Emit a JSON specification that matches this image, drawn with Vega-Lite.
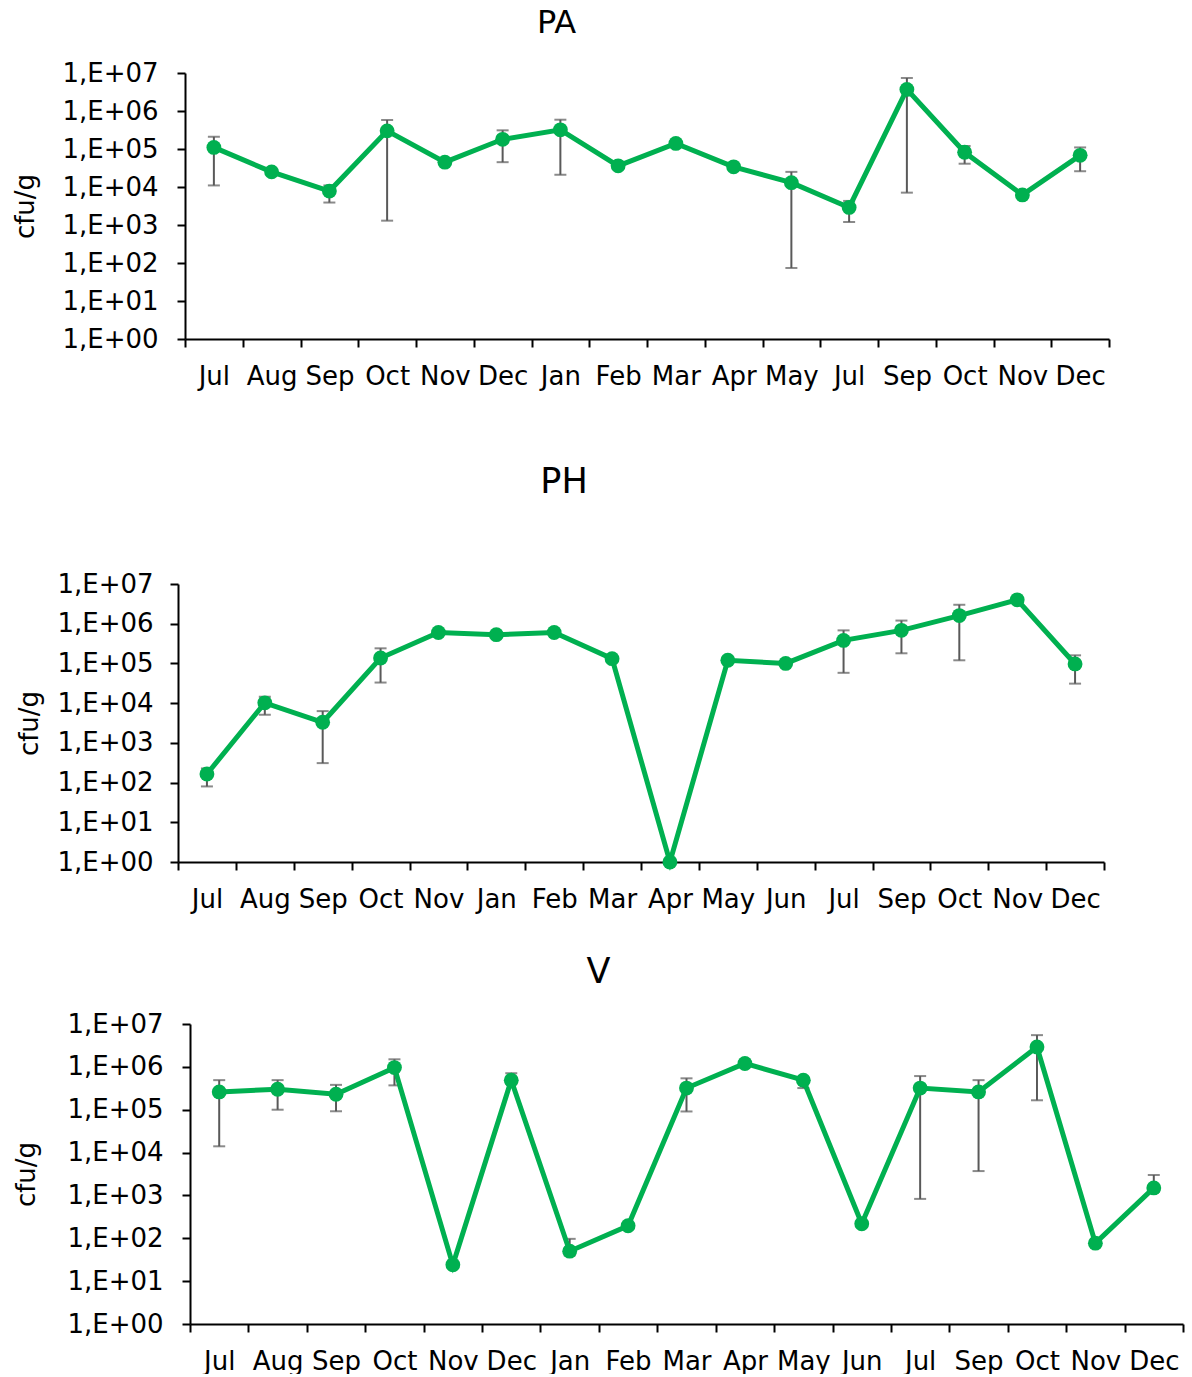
{
  "$schema": "https://vega.github.io/schema/vega-lite/v6.json",
  "background": "white",
  "padding": {"left": 12, "top": 7, "right": 5, "bottom": 0},
  "spacing": 43,
  "config": {
    "font": "DejaVu Sans",
    "view": {"stroke": null},
    "axis": {
      "labelFont": "DejaVu Sans", "labelFontSize": 26, "labelColor": "#000",
      "titleFont": "DejaVu Sans", "titleFontSize": 26, "titleFontWeight": "normal", "titleColor": "#000",
      "domainColor": "#000", "domainWidth": 2, "tickColor": "#000", "tickWidth": 2, "tickSize": 8, "grid": false
    },
    "title": {"font": "DejaVu Sans", "fontWeight": "normal", "color": "#000", "anchor": "middle", "frame": "group"}
  },
  "datasets": {
    "pa": [
      {"k": "Jul_1", "v": 110000, "lo": 11000, "hi": 210000},
      {"k": "Aug_1", "v": 25000, "lo": null, "hi": null},
      {"k": "Sep_1", "v": 7800, "lo": 3900, "hi": 11000},
      {"k": "Oct_1", "v": 300000, "lo": 1300, "hi": 580000},
      {"k": "Nov_1", "v": 45000, "lo": null, "hi": null},
      {"k": "Dec_1", "v": 180000, "lo": 45000, "hi": 310000},
      {"k": "Jan_1", "v": 320000, "lo": 21000, "hi": 590000},
      {"k": "Feb_1", "v": 36000, "lo": null, "hi": null},
      {"k": "Mar_1", "v": 140000, "lo": null, "hi": null},
      {"k": "Apr_1", "v": 34000, "lo": null, "hi": null},
      {"k": "May_1", "v": 13000, "lo": 74, "hi": 25000},
      {"k": "Jul_2", "v": 2900, "lo": 1200, "hi": 4300},
      {"k": "Sep_2", "v": 3700000, "lo": 7100, "hi": 7400000},
      {"k": "Oct_2", "v": 82000, "lo": 41000, "hi": 120000},
      {"k": "Nov_2", "v": 6200, "lo": null, "hi": null},
      {"k": "Dec_2", "v": 68000, "lo": 26000, "hi": 110000}
    ],
    "ph": [
      {"k": "Jul_1", "v": 164, "lo": 80, "hi": 227},
      {"k": "Aug_1", "v": 10200, "lo": 5100, "hi": 14500},
      {"k": "Sep_1", "v": 3300, "lo": 309, "hi": 6300},
      {"k": "Oct_1", "v": 137000, "lo": 33000, "hi": 240000},
      {"k": "Nov_1", "v": 600000, "lo": null, "hi": null},
      {"k": "Jan_1", "v": 530000, "lo": null, "hi": null},
      {"k": "Feb_1", "v": 600000, "lo": null, "hi": null},
      {"k": "Mar_1", "v": 132000, "lo": null, "hi": null},
      {"k": "Apr_1", "v": 1, "lo": null, "hi": null},
      {"k": "May_1", "v": 120000, "lo": null, "hi": null},
      {"k": "Jun_1", "v": 100000, "lo": null, "hi": null},
      {"k": "Jul_2", "v": 380000, "lo": 58000, "hi": 680000},
      {"k": "Sep_2", "v": 680000, "lo": 180000, "hi": 1200000},
      {"k": "Oct_2", "v": 1600000, "lo": 120000, "hi": 3000000},
      {"k": "Nov_2", "v": 4000000, "lo": null, "hi": null},
      {"k": "Dec_2", "v": 97000, "lo": 31000, "hi": 160000}
    ],
    "v": [
      {"k": "Jul_1", "v": 260000, "lo": 14000, "hi": 490000},
      {"k": "Aug_1", "v": 300000, "lo": 100000, "hi": 490000},
      {"k": "Sep_1", "v": 230000, "lo": 92000, "hi": 380000},
      {"k": "Oct_1", "v": 960000, "lo": 370000, "hi": 1500000},
      {"k": "Nov_1", "v": 24, "lo": null, "hi": null},
      {"k": "Dec_1", "v": 490000, "lo": 400000, "hi": 710000},
      {"k": "Jan_1", "v": 50, "lo": 40, "hi": 97},
      {"k": "Feb_1", "v": 196, "lo": null, "hi": null},
      {"k": "Mar_1", "v": 320000, "lo": 91000, "hi": 540000},
      {"k": "Apr_1", "v": 1200000, "lo": null, "hi": null},
      {"k": "May_1", "v": 490000, "lo": 320000, "hi": 550000},
      {"k": "Jun_1", "v": 218, "lo": null, "hi": null},
      {"k": "Jul_2", "v": 320000, "lo": 830, "hi": 610000},
      {"k": "Sep_2", "v": 260000, "lo": 3700, "hi": 490000},
      {"k": "Oct_2", "v": 2900000, "lo": 166000, "hi": 5500000},
      {"k": "Nov_2", "v": 77, "lo": null, "hi": null},
      {"k": "Dec_2", "v": 1500, "lo": 1200, "hi": 3000}
    ]
  },
  "vconcat": [
    {
      "title": {"text": "PA", "fontSize": 32, "offset": 20, "dx": -87},
      "width": 931, "height": 266,
      "data": {"name": "pa"},
      "encoding": {
        "x": {"field": "k", "type": "nominal",
          "scale": {"type": "band", "paddingInner": 0, "paddingOuter": 0, "range": [7, 931],
            "domain": ["Jul_1","Aug_1","Sep_1","Oct_1","Nov_1","Dec_1","Jan_1","Feb_1","Mar_1","Apr_1","May_1","Jul_2","Sep_2","Oct_2","Nov_2","Dec_2"]},
          "axis": {"title": " ", "titleFontSize": 10, "titlePadding": 23, "labelExpr": "split(datum.label,'_')[0]", "labelAngle": 0, "tickBand": "extent", "labelPadding": 16, "labelOverlap": false}}
      },
      "layer": [
        {"transform": [{"filter": "datum.lo != null"}],
         "mark": {"type": "rule", "color": "#595959", "strokeWidth": 2},
         "encoding": {"y": {"field": "lo", "type": "quantitative", "scale": {"type": "log", "domain": [1, 10000000]}, "axis": {"title": "cfu/g"}}, "y2": {"field": "hi"}}},
        {"transform": [{"filter": "datum.lo != null"}],
         "mark": {"type": "tick", "color": "#595959", "thickness": 2, "size": 12},
         "encoding": {"y": {"field": "lo", "type": "quantitative", "axis": {"title": "cfu/g"}}}},
        {"transform": [{"filter": "datum.hi != null"}],
         "mark": {"type": "tick", "color": "#595959", "thickness": 2, "size": 12},
         "encoding": {"y": {"field": "hi", "type": "quantitative", "axis": {"title": "cfu/g"}}}},
        {"mark": {"type": "line", "color": "#00B050", "strokeWidth": 5, "point": {"filled": true, "size": 220, "color": "#00B050", "opacity": 1}},
         "encoding": {"y": {"field": "v", "type": "quantitative",
           "axis": {"title": "cfu/g", "offset": -7, "titlePadding": 23, "labelPadding": 19, "values": [1, 10, 100, 1000, 10000, 100000, 1000000, 10000000], "labelExpr": "'1,E+0' + round(log(datum.value)/LN10)"}}}}
      ]
    },
    {
      "title": {"text": "PH", "fontSize": 35, "offset": 71, "dx": -77},
      "width": 926, "height": 278,
      "data": {"name": "ph"},
      "encoding": {
        "x": {"field": "k", "type": "nominal",
          "scale": {"type": "band", "paddingInner": 0, "paddingOuter": 0,
            "domain": ["Jul_1","Aug_1","Sep_1","Oct_1","Nov_1","Jan_1","Feb_1","Mar_1","Apr_1","May_1","Jun_1","Jul_2","Sep_2","Oct_2","Nov_2","Dec_2"]},
          "axis": {"title": null, "labelExpr": "split(datum.label,'_')[0]", "labelAngle": 0, "tickBand": "extent", "labelPadding": 16, "labelOverlap": false}}
      },
      "layer": [
        {"transform": [{"filter": "datum.lo != null"}],
         "mark": {"type": "rule", "color": "#595959", "strokeWidth": 2},
         "encoding": {"y": {"field": "lo", "type": "quantitative", "scale": {"type": "log", "domain": [1, 10000000]}, "axis": {"title": "cfu/g"}}, "y2": {"field": "hi"}}},
        {"transform": [{"filter": "datum.lo != null"}],
         "mark": {"type": "tick", "color": "#595959", "thickness": 2, "size": 12},
         "encoding": {"y": {"field": "lo", "type": "quantitative", "axis": {"title": "cfu/g"}}}},
        {"transform": [{"filter": "datum.hi != null"}],
         "mark": {"type": "tick", "color": "#595959", "thickness": 2, "size": 12},
         "encoding": {"y": {"field": "hi", "type": "quantitative", "axis": {"title": "cfu/g"}}}},
        {"mark": {"type": "line", "color": "#00B050", "strokeWidth": 5, "point": {"filled": true, "size": 220, "color": "#00B050", "opacity": 1}},
         "encoding": {"y": {"field": "v", "type": "quantitative",
           "axis": {"title": "cfu/g", "titlePadding": 14, "labelPadding": 17, "values": [1, 10, 100, 1000, 10000, 100000, 1000000, 10000000], "labelExpr": "'1,E+0' + round(log(datum.value)/LN10)"}}}}
      ]
    },
    {
      "title": {"text": "V", "fontSize": 35, "offset": 21, "dx": -82},
      "width": 1005, "height": 300,
      "data": {"name": "v"},
      "encoding": {
        "x": {"field": "k", "type": "nominal",
          "scale": {"type": "band", "paddingInner": 0, "paddingOuter": 0, "range": [12, 1005],
            "domain": ["Jul_1","Aug_1","Sep_1","Oct_1","Nov_1","Dec_1","Jan_1","Feb_1","Mar_1","Apr_1","May_1","Jun_1","Jul_2","Sep_2","Oct_2","Nov_2","Dec_2"]},
          "axis": {"title": null, "labelExpr": "split(datum.label,'_')[0]", "labelAngle": 0, "tickBand": "extent", "labelPadding": 16, "labelOverlap": false}}
      },
      "layer": [
        {"transform": [{"filter": "datum.lo != null"}],
         "mark": {"type": "rule", "color": "#595959", "strokeWidth": 2},
         "encoding": {"y": {"field": "lo", "type": "quantitative", "scale": {"type": "log", "domain": [1, 10000000]}, "axis": {"title": "cfu/g"}}, "y2": {"field": "hi"}}},
        {"transform": [{"filter": "datum.lo != null"}],
         "mark": {"type": "tick", "color": "#595959", "thickness": 2, "size": 12},
         "encoding": {"y": {"field": "lo", "type": "quantitative", "axis": {"title": "cfu/g"}}}},
        {"transform": [{"filter": "datum.hi != null"}],
         "mark": {"type": "tick", "color": "#595959", "thickness": 2, "size": 12},
         "encoding": {"y": {"field": "hi", "type": "quantitative", "axis": {"title": "cfu/g"}}}},
        {"mark": {"type": "line", "color": "#00B050", "strokeWidth": 5, "point": {"filled": true, "size": 220, "color": "#00B050", "opacity": 1}},
         "encoding": {"y": {"field": "v", "type": "quantitative",
           "axis": {"title": "cfu/g", "offset": -12, "titlePadding": 27, "labelPadding": 19, "values": [1, 10, 100, 1000, 10000, 100000, 1000000, 10000000], "labelExpr": "'1,E+0' + round(log(datum.value)/LN10)"}}}}
      ]
    }
  ]
}
